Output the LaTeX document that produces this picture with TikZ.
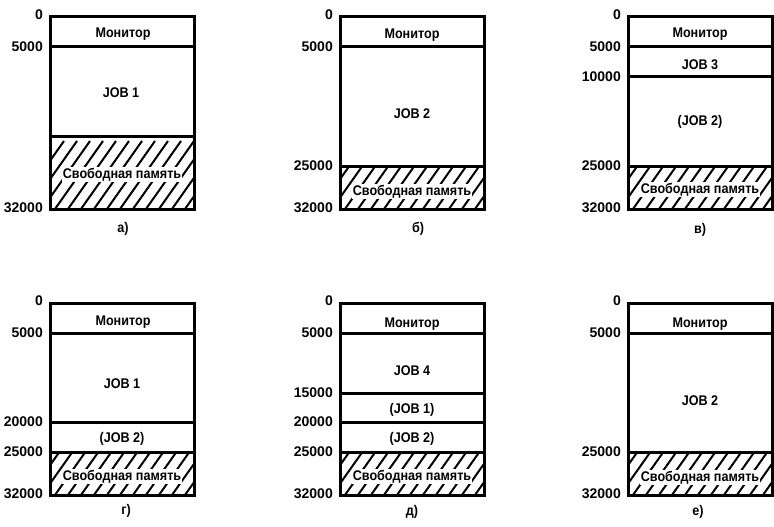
\documentclass[tikz,border=0pt]{standalone}
\usepackage{fontspec}
\setmainfont{Liberation Sans}[FakeStretch=0.9]
\newfontfamily\numfont{Liberation Sans}

% hatched free area: left x, top y, bottom y
\newcommand\freemem[3]{%
  \begin{scope}
    \clip (#1,#2) rectangle ++(144,#3-#2);
    \foreach \s in {-60,-47,...,160}
      \draw[hatch] (#1+\s,#3) -- ++(48,-68);
  \end{scope}}

\begin{document}
\begin{tikzpicture}[x=1pt,y=-1pt]
   \useasboundingbox (0,0) rectangle (774,527);
   \tikzstyle{frame}=[line width=3pt]
   \tikzstyle{hatch}=[line width=2pt]
   \tikzstyle{addr}=[anchor=east, inner sep=0pt, font=\numfont\bfseries\fontsize{14}{16}\selectfont]
   \tikzstyle{part}=[anchor=base, inner sep=0pt, font=\bfseries\fontsize{14}{16}\selectfont]
   \tikzstyle{free}=[part, fill=white, inner sep=0.8pt]
   \tikzstyle{sublbl}=[inner sep=0pt, font=\bfseries\fontsize{14}{16}\selectfont]

   % a)
   \freemem{50}{136}{209}
   \draw[frame] (50,17) rectangle (194,209);
   \draw[frame] (50,47) -- (194,47);
   \draw[frame] (50,136) -- (194,136);
   \foreach \y/\v/\n in {15/0/0,47/5000/1,208/32000/2}
       \node[addr] (a\n) at (43,\y) {\v};
   \node[part] (amon) at (123,38) {Монитор};
   \node[part] (ajob) at (121,98) {JOB 1};
   \node[free] (afree) at (122,178) {Свободная память};
   \node[sublbl] (acap) at (123,229) {а)};

   % b)
   \freemem{340}{166}{209}
   \draw[frame] (340,17) rectangle (484,209);
   \draw[frame] (340,47) -- (484,47);
   \draw[frame] (340,166) -- (484,166);
   \foreach \y/\v/\n in {15/0/0,47/5000/1,166/25000/2,208/32000/3}
       \node[addr] (b\n) at (333,\y) {\v};
   \node[part] (bmon) at (412,39) {Монитор};
   \node[part] (bjob) at (412,118) {JOB 2};
   \node[free] (bfree) at (412,195) {Свободная память};
   \node[sublbl] (bcap) at (418,229) {б)};

   % v)
   \freemem{628}{166}{209}
   \draw[frame] (628,17) rectangle (772,209);
   \foreach \y in {47,77,166}
       \draw[frame] (628,\y) -- (772,\y);
   \foreach \y/\v/\n in {15/0/0,47/5000/1,77/10000/2,166/25000/3,208/32000/4}
       \node[addr] (c\n) at (621,\y) {\v};
   \node[part] (cmon) at (700,38) {Монитор};
   \node[part] (cjob3) at (700,70) {JOB 3};
   \node[part] (cjob2) at (700,125) {(JOB 2)};
   \node[free] (cfree) at (700,193) {Свободная память};
   \node[sublbl] (ccap) at (700,230) {в)};

   % g)
   \freemem{50}{452}{495}
   \draw[frame] (50,303) rectangle (194,495);
   \foreach \y in {333,422,452}
       \draw[frame] (50,\y) -- (194,\y);
   \foreach \y/\v/\n in {301/0/0,333/5000/1,422/20000/2,452/25000/3,494/32000/4}
       \node[addr] (d\n) at (43,\y) {\v};
   \node[part] (dmon) at (123,325) {Монитор};
   \node[part] (djob1) at (122,388) {JOB 1};
   \node[part] (djob2) at (122,442) {(JOB 2)};
   \node[free] (dfree) at (122,480) {Свободная память};
   \node[sublbl] (dcap) at (126,511) {г)};

   % d)
   \freemem{340}{452}{495}
   \draw[frame] (340,303) rectangle (484,495);
   \foreach \y in {333,393,422,452}
       \draw[frame] (340,\y) -- (484,\y);
   \foreach \y/\v/\n in {301/0/0,333/5000/1,393/15000/2,422/20000/3,452/25000/4,494/32000/5}
       \node[addr] (e\n) at (333,\y) {\v};
   \node[part] (emon) at (412,327) {Монитор};
   \node[part] (ejob4) at (412,375) {JOB 4};
   \node[part] (ejob1) at (412,413) {(JOB 1)};
   \node[part] (ejob2) at (412,442) {(JOB 2)};
   \node[free] (efree) at (412,480) {Свободная память};
   \node[sublbl] (ecap) at (412,512) {д)};

   % e)
   \freemem{628}{452}{495}
   \draw[frame] (628,303) rectangle (772,495);
   \foreach \y in {333,452}
       \draw[frame] (628,\y) -- (772,\y);
   \foreach \y/\v/\n in {301/0/0,333/5000/1,452/25000/2,494/32000/3}
       \node[addr] (f\n) at (621,\y) {\v};
   \node[part] (fmon) at (700,327) {Монитор};
   \node[part] (fjob) at (700,405) {JOB 2};
   \node[free] (ffree) at (700,481) {Свободная память};
   \node[sublbl] (fcap) at (698,512) {е)};
\end{tikzpicture}
\end{document}
